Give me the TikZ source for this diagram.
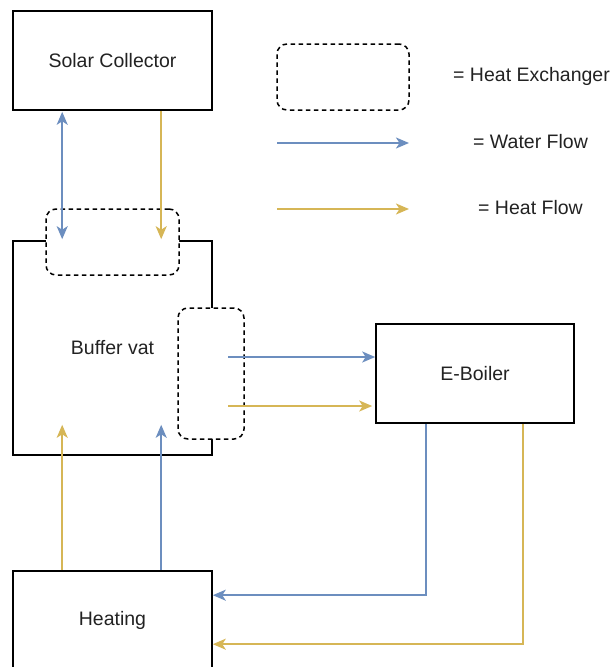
\documentclass[tikz,border=0pt]{standalone}
\usepackage{fontspec}
\setmainfont{Liberation Sans}
\usetikzlibrary{arrows.meta,calc}
\definecolor{wblue}{HTML}{6C8EBF}
\definecolor{hgold}{HTML}{D6B656}
\definecolor{txt}{HTML}{222222}
\begin{document}
\begin{tikzpicture}[x=1pt,y=-1pt,
  box/.style={draw=black,line width=1.6pt,fill=white,inner sep=0pt,text=txt,
    font=\fontsize{19.5}{23}\selectfont},
  hx/.style={draw=black,line width=1.5pt,fill=white,rounded corners=10pt,
    dash pattern=on 4.5pt off 3.5pt,inner sep=0pt},
  lbl/.style={text=txt,font=\fontsize{19.5}{23}\selectfont,anchor=west,inner sep=0pt},
  arrtip/.tip={Stealth[length=13pt,width=11pt,inset=3.5pt]},
  tip/.style={-arrtip},
  water/.style={draw=wblue,line width=1.9pt,tip},
  heat/.style={draw=hgold,line width=1.9pt,tip}]
\useasboundingbox (0,0) rectangle (613,667);
% main boxes
\node[box,minimum width=199pt,minimum height=99pt] (sc) at (112.5,60.5) {Solar Collector};
\node[box,minimum width=199pt,minimum height=214pt] (buf) at (112.5,348) {Buffer vat};
\node[box,minimum width=198pt,minimum height=99pt] (eb) at (475,373.5) {E-Boiler};
\node[box,minimum width=199pt,minimum height=99pt] (ht) at (112.5,620.5) {Heating};
% heat exchangers
\node[hx,minimum width=133pt,minimum height=66pt] (hx1) at (112.5,242) {};
\node[hx,minimum width=66pt,minimum height=131pt] (hx2) at (211,373.5) {};
% legend
\node[hx,minimum width=132pt,minimum height=66pt] (lhx) at (343,77) {};
\node[lbl] (lhxt) at (453,76) {= Heat Exchanger};
\coordinate (lw1) at (277,143);
\coordinate (lw2) at (409,143);
\coordinate (lh1) at (277,209);
\coordinate (lh2) at (409,209);
\draw[water] (lw1) -- (lw2);
\draw[heat] (lh1) -- (lh2);
\node[lbl] (lwt) at (473,142) {= Water Flow};
\node[lbl] (lht) at (478,208) {= Heat Flow};
% solar collector <-> buffer
\draw[water,arrtip-arrtip]
  ($(sc.south west)+(50,1)$) -- ($(buf.north west)+(50,-1)$);
\draw[heat] ($(sc.south west)+(149,0)$) -- ($(buf.north west)+(149,-1)$);
% buffer -> e-boiler
\coordinate (b1) at ($(hx2.center)+(17,-16.5)$);
\coordinate (b2) at ($(hx2.center)+(17,32.5)$);
\draw[water] (b1) -- (b1 -| eb.west);
\draw[heat] (b2) -- ($(b2 -| eb.west)+(-3,0)$);
% heating -> buffer
\draw[heat] ($(ht.north west)+(50,0)$) -- ($(buf.south west)+(50,-31)$);
\draw[water] ($(ht.north west)+(149,0)$) -- ($(buf.south west)+(149,-31)$);
% e-boiler -> heating
\draw[water] ($(eb.south west)+(51,0)$) |- ($(ht.north east)+(0,25)$);
\draw[heat] ($(eb.south west)+(148,0)$) |- ($(ht.north east)+(0,74)$);
\end{tikzpicture}
\end{document}
